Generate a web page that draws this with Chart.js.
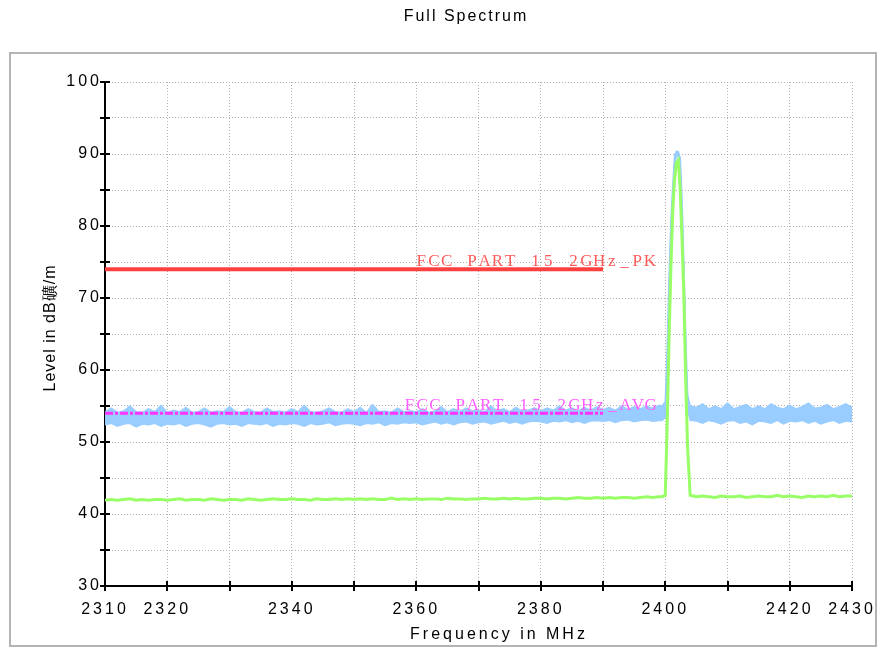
<!DOCTYPE html>
<html>
<head>
<meta charset="utf-8">
<script src="https://cdn.jsdelivr.net/npm/chart.js@4.4.0/dist/chart.umd.min.js"></script>
<style>
html, body { margin: 0; padding: 0; background: #fff; }
canvas { display: block; }
</style>
</head>
<body>
<canvas id="spectrum" width="879" height="648"></canvas>
<script>
// sweep points in MHz (1 MHz steps, finer over the carrier)
var freq = [
  2310,2311,2312,2313,2314,2315,2316,2317,2318,2319,
  2320,2321,2322,2323,2324,2325,2326,2327,2328,2329,
  2330,2331,2332,2333,2334,2335,2336,2337,2338,2339,
  2340,2341,2342,2343,2344,2345,2346,2347,2348,2349,
  2350,2351,2352,2353,2354,2355,2356,2357,2358,2359,
  2360,2361,2362,2363,2364,2365,2366,2367,2368,2369,
  2370,2371,2372,2373,2374,2375,2376,2377,2378,2379,
  2380,2381,2382,2383,2384,2385,2386,2387,2388,2389,
  2390,2391,2392,2393,2394,2395,2396,2397,2398,2399,
  2399.5,2400,2400.3,2400.6,2400.9,2401.2,2401.5,2401.8,2402.1,2402.4,2402.7,2403,2403.3,2403.6,2404,
  2405,2406,2407,2408,2409,2410,2411,2412,2413,2414,
  2415,2416,2417,2418,2419,2420,2421,2422,2423,2424,
  2425,2426,2427,2428,2429,2430
];

// peak detector trace, top and bottom of the noise band (dBuV/m)
var peakTop = [
  54.2,54.7,54.1,54.3,55.0,54.2,54.1,54.6,54.2,55.1,
  54.1,54.4,54.2,54.8,54.1,54.2,54.7,54.1,54.3,54.2,
  54.9,54.2,54.1,54.6,54.2,54.1,54.7,54.2,54.3,54.1,
  54.6,54.2,55.1,54.2,54.1,54.3,54.7,54.2,54.1,54.6,
  54.2,54.8,54.1,55.2,54.2,54.3,54.1,54.7,54.2,54.3,
  54.2,54.6,54.1,54.3,54.9,54.2,54.6,54.2,54.7,54.3,
  54.4,54.2,55.0,54.3,54.6,54.2,54.8,54.3,54.4,54.7,
  54.3,54.7,54.4,55.0,54.4,54.7,54.3,54.8,54.4,54.9,
  54.5,54.8,54.4,55.0,54.5,54.9,54.6,55.0,54.7,55.1,
  55.0,55.6,62.5,72.5,80.5,85.5,89.8,90.4,90.3,89.5,83.5,74.5,64.5,56.5,55.0,
  54.8,55.3,54.6,55.0,54.6,55.4,54.6,54.9,55.2,54.6,
  55.0,54.6,55.3,54.8,54.6,55.1,54.6,54.9,55.4,54.7,
  54.8,55.2,54.6,54.9,55.3,54.8
];
var peakBottom = [
  52.4,52.6,52.2,52.5,52.6,52.1,52.5,52.4,52.6,52.2,
  52.5,52.4,52.6,52.2,52.5,52.6,52.4,52.1,52.5,52.6,
  52.4,52.5,52.2,52.6,52.5,52.4,52.6,52.2,52.5,52.4,
  52.6,52.5,52.2,52.6,52.4,52.5,52.7,52.3,52.5,52.6,
  52.5,52.3,52.6,52.5,52.7,52.3,52.6,52.5,52.7,52.6,
  52.7,52.4,52.6,52.8,52.5,52.7,52.4,52.7,52.8,52.5,
  52.7,52.8,52.5,52.7,52.9,52.6,52.8,52.5,52.8,52.9,
  52.8,52.6,52.9,52.8,53.0,52.7,52.9,52.6,52.9,53.0,
  52.9,53.0,52.7,53.0,53.1,52.8,53.0,53.1,52.9,53.0,
  53.0,53.4,60.5,70.5,79.0,84.0,88.5,89.7,89.6,88.5,82.0,73.0,62.5,54.5,53.0,
  52.9,52.6,53.0,52.8,52.5,52.9,53.0,52.6,52.8,52.4,
  52.9,52.8,52.6,53.0,52.5,52.9,52.8,53.0,52.6,52.9,
  52.5,52.8,53.0,52.6,52.9,52.8
];

// average detector trace
var avgTrace = [
  41.9,42.0,41.9,42.0,42.1,41.9,42.0,41.9,42.0,42.0,
  41.9,42.0,42.1,41.9,42.0,42.0,41.9,42.1,42.0,41.9,
  42.0,42.0,41.9,42.1,42.0,41.9,42.0,42.1,42.0,42.0,
  42.1,42.0,42.0,41.9,42.1,42.0,42.0,42.1,42.0,42.1,
  42.0,42.1,42.0,42.1,42.0,42.0,42.2,42.0,42.1,42.0,
  42.1,42.0,42.1,42.1,42.0,42.2,42.1,42.1,42.0,42.1,
  42.1,42.2,42.1,42.1,42.2,42.1,42.2,42.1,42.1,42.2,
  42.2,42.1,42.2,42.2,42.1,42.2,42.3,42.2,42.2,42.3,
  42.2,42.3,42.2,42.3,42.3,42.2,42.3,42.4,42.3,42.4,
  42.4,42.6,52.0,64.0,74.0,82.0,86.5,88.8,89.2,85.0,78.0,70.0,58.0,49.0,42.6,
  42.4,42.5,42.4,42.3,42.5,42.4,42.4,42.5,42.3,42.4,
  42.5,42.4,42.4,42.6,42.4,42.5,42.4,42.3,42.5,42.4,
  42.5,42.4,42.6,42.4,42.5,42.5
];

// limit lines
var limitFreq = [2310, 2390];
var pkLimit = [74, 74];
var avgLimit = [54, 54];
var limitNames = ['FCC PART 15 2GHz_PK', 'FCC PART 15 2GHz_AVG'];
var limitLabelStart = [2360.1, 2358.2];

// tick labels
var xTickLabels = [2310, 2320, 2340, 2360, 2380, 2400, 2420, 2430];
var yTickLabels = [30, 40, 50, 60, 70, 80, 90, 100];

function pts(xs, ys) {
  return xs.map(function (x, i) { return { x: x, y: ys[i] }; });
}

var SANS = '"Liberation Sans", Arial, sans-serif';

var decor = {
  id: 'decor',
  beforeDraw: function (chart) {
    var ctx = chart.ctx;
    ctx.save();
    ctx.fillStyle = '#fff';
    ctx.fillRect(0, 0, chart.width, chart.height);
    ctx.strokeStyle = '#b4b4b4';
    ctx.lineWidth = 2;
    ctx.strokeRect(10, 53, 866, 593);
    ctx.fillStyle = '#000';
    ctx.textAlign = 'center';
    ctx.textBaseline = 'middle';
    ctx.font = '16px ' + SANS;
    ctx.letterSpacing = '2px';
    ctx.fillText('Full Spectrum', 466, 17);
    ctx.letterSpacing = '3px';
    ctx.fillText('Frequency in MHz', 499, 635);
    ctx.translate(51, 328);
    ctx.rotate(-Math.PI / 2);
    ctx.letterSpacing = '1px';
    ctx.fillText('Level in dB礦/m', 0, 0);
    ctx.restore();
    // spacing for the tick labels drawn by the scales
    ctx.letterSpacing = '3px';
  },
  afterDatasetsDraw: function (chart) {
    var ctx = chart.ctx, xs = chart.scales.x, ys = chart.scales.y;
    ctx.save();
    ctx.letterSpacing = '0px';
    // cross ticks on both axes
    ctx.strokeStyle = '#000';
    ctx.lineWidth = 2;
    ctx.beginPath();
    ys.ticks.forEach(function (t) {
      var p = Math.round(ys.getPixelForValue(t.value));
      ctx.moveTo(xs.left - 5, p);
      ctx.lineTo(xs.left + 5, p);
    });
    xs.ticks.forEach(function (t) {
      var p = Math.round(xs.getPixelForValue(t.value));
      ctx.moveTo(p, ys.bottom - 5);
      ctx.lineTo(p, ys.bottom + 5);
    });
    ctx.stroke();
    // limit line names, one cell per character
    ctx.font = '17px "Liberation Serif", "DejaVu Serif", serif';
    ctx.textAlign = 'center';
    ctx.textBaseline = 'alphabetic';
    var cols = ['#ff5a5a', '#ff5cff'];
    var levels = [pkLimit[0], avgLimit[0]];
    var pitch = 12.7;
    limitNames.forEach(function (name, k) {
      ctx.fillStyle = cols[k];
      var x0 = xs.getPixelForValue(limitLabelStart[k]);
      var y0 = ys.getPixelForValue(levels[k]) - 3;
      for (var i = 0; i < name.length; i++) {
        ctx.fillText(name[i], x0 + i * pitch + pitch / 2 - 2, y0);
      }
    });
    ctx.restore();
  }
};

new Chart(document.getElementById('spectrum').getContext('2d'), {
  type: 'line',
  data: {
    datasets: [{
      label: 'PK top',
      data: pts(freq, peakTop),
      borderColor: '#99ccff',
      backgroundColor: '#99ccff',
      borderWidth: 1.5,
      fill: '+1',
      order: 5
    }, {
      label: 'PK bottom',
      data: pts(freq, peakBottom),
      borderColor: '#99ccff',
      borderWidth: 1.5,
      fill: false,
      order: 4
    }, {
      label: 'AV',
      data: pts(freq, avgTrace),
      borderColor: '#99ff66',
      borderWidth: 3,
      fill: false,
      order: 3
    }, {
      label: 'PK limit',
      data: pts(limitFreq, pkLimit),
      borderColor: '#ff4040',
      borderWidth: 4,
      fill: false,
      order: 2
    }, {
      label: 'AVG limit',
      data: pts(limitFreq, avgLimit),
      borderColor: '#ff33ff',
      borderWidth: 3,
      borderDash: [8, 2, 3, 2],
      fill: false,
      order: 1
    }]
  },
  options: {
    responsive: false,
    animation: false,
    devicePixelRatio: 1,
    layout: { padding: { top: 82, left: 10, right: 27, bottom: 0 } },
    elements: { point: { radius: 0 }, line: { tension: 0 } },
    plugins: { legend: { display: false }, tooltip: { enabled: false }, title: { display: false } },
    scales: {
      x: {
        type: 'linear',
        min: 2310,
        max: 2430,
        afterFit: function (s) { s.height = 62; s.paddingLeft = 0; s.paddingRight = 0; },
        ticks: {
          stepSize: 10,
          padding: 14,
          color: '#000',
          font: { family: SANS, size: 16 },
          maxRotation: 0,
          autoSkip: false,
          callback: function (v) { return xTickLabels.indexOf(v) >= 0 ? String(v) : ''; }
        },
        grid: { color: '#b0b0b0', lineWidth: 1, drawTicks: false },
        border: { display: true, color: '#000', width: 2, dash: [1, 2] }
      },
      y: {
        min: 30,
        max: 100,
        afterFit: function (s) { s.width = 95; s.paddingTop = 0; s.paddingBottom = 0; },
        ticks: {
          stepSize: 5,
          padding: 3,
          color: '#000',
          font: { family: SANS, size: 16 },
          autoSkip: false,
          callback: function (v) { return yTickLabels.indexOf(v) >= 0 ? String(v) : ''; }
        },
        grid: { color: '#b0b0b0', lineWidth: 1, drawTicks: false },
        border: { display: true, color: '#000', width: 2, dash: [1, 2] }
      }
    }
  },
  plugins: [decor]
});
</script>
</body>
</html>
